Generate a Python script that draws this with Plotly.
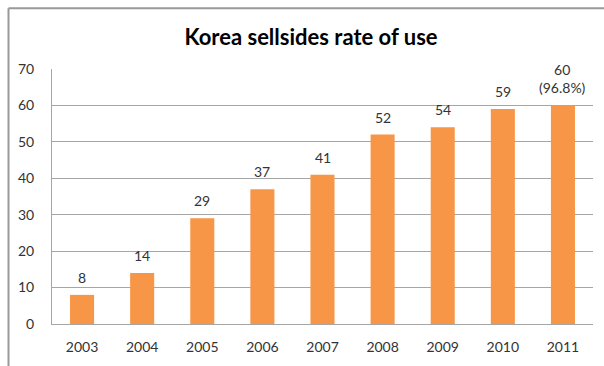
import plotly.graph_objects as go

years = ["2003", "2004", "2005", "2006", "2007", "2008", "2009", "2010", "2011"]
values = [8, 14, 29, 37, 41, 52, 54, 59, 60]
labels = ["8", "14", "29", "37", "41", "52", "54", "59", "60<br>(96.8%)"]
y_ticks = [0, 10, 20, 30, 40, 50, 60, 70]

FONT = "Lato, Open Sans, sans-serif"

fig = go.Figure(go.Bar(
    x=years, y=values,
    marker=dict(color="#F79646", line=dict(width=0)),
    cliponaxis=False, width=0.4,
))

# value labels (category axis: positions are the category indices)
for i, (v, lab) in enumerate(zip(values, labels)):
    fig.add_annotation(x=i, y=v, xref="x", yref="y", text=lab, showarrow=False,
                       yanchor="bottom", yshift=7,
                       font=dict(family=FONT, size=14, color="#333333"))

fig.update_layout(
    width=604, height=366,
    margin=dict(l=52, r=11, t=69, b=39),
    paper_bgcolor="white", plot_bgcolor="white",
    showlegend=False,
    title=dict(text="<b>Korea sellsides rate of use</b>", x=311 / 604, xref="container",
               y=1 - 37 / 366, yref="container", yanchor="middle", xanchor="center",
               font=dict(family=FONT, size=22, color="#000000")),
    xaxis=dict(type="category", categoryorder="array", categoryarray=years,
               showline=True, linecolor="#A6A6A6", linewidth=1, ticks="",
               tickfont=dict(family=FONT, size=14, color="#333333"),
               ticklabelstandoff=10),
    yaxis=dict(range=[0, 70], tickvals=y_ticks, showline=True, linecolor="#A6A6A6",
               linewidth=1, showgrid=True, gridcolor="#A6A6A6", gridwidth=1,
               zeroline=False, ticks="",
               tickfont=dict(family=FONT, size=14, color="#333333"),
               ticklabelstandoff=14),
)

# chart frame (top and left edges visible)
fig.add_shape(type="line", xref="paper", yref="paper",
              x0=(8.5 - 52) / 541, x1=1.1, y0=(327 - 7.5) / 258, y1=(327 - 7.5) / 258,
              line=dict(color="#999999", width=2))
fig.add_shape(type="line", xref="paper", yref="paper",
              x0=(8.5 - 52) / 541, x1=(8.5 - 52) / 541, y0=(327 - 7.5) / 258, y1=-0.3,
              line=dict(color="#999999", width=2))

fig.write_html("out.html")
